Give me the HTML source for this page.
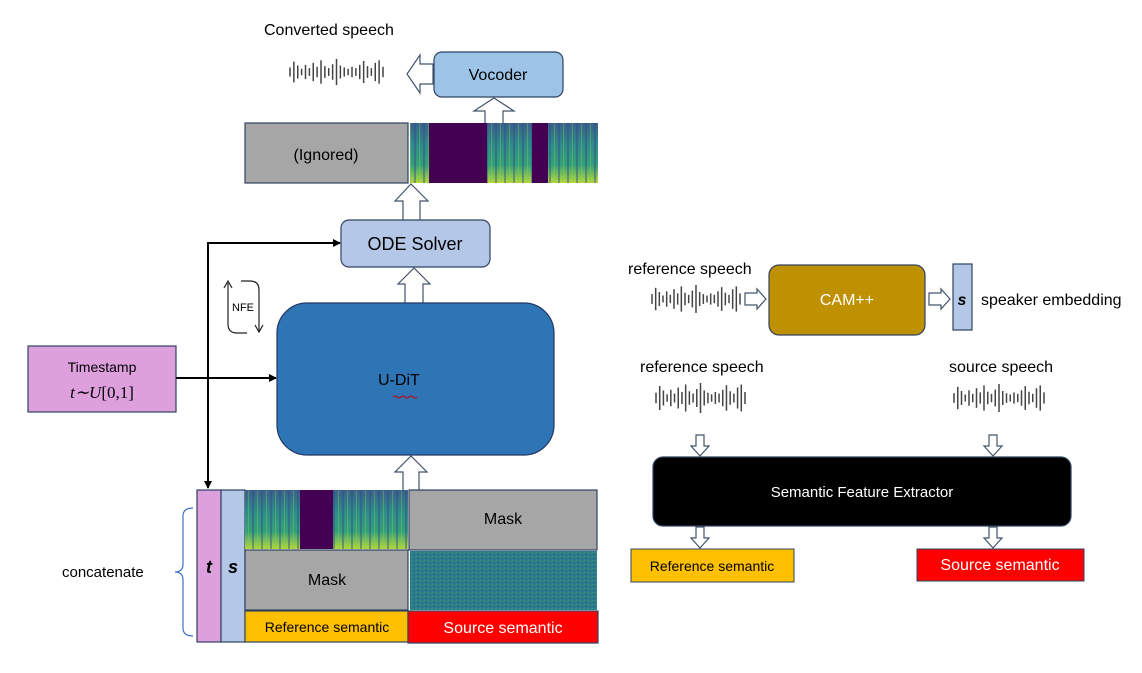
<!DOCTYPE html>
<html><head><meta charset="utf-8">
<style>
html,body{margin:0;padding:0;background:#fff;}
svg{display:block;font-family:"Liberation Sans",sans-serif;}
</style></head>
<body>
<svg id="s" width="1142" height="673" viewBox="0 0 1142 673" xmlns="http://www.w3.org/2000/svg">
<defs>
<linearGradient id="spg" x1="0" y1="0" x2="0" y2="1">
<stop offset="0" stop-color="#3b5f8a"/><stop offset="0.35" stop-color="#2f8a8a"/><stop offset="0.7" stop-color="#35a07a"/><stop offset="1" stop-color="#b5d83a"/>
</linearGradient>
<pattern id="vs" width="9" height="600" patternUnits="userSpaceOnUse">
<rect x="0" width="2" height="600" fill="#2e4d86" opacity="0.45"/>
<rect x="5" width="1" height="600" fill="#7fd05a" opacity="0.4"/>
</pattern>
<pattern id="noise" width="4" height="4" patternUnits="userSpaceOnUse">
<rect width="4" height="4" fill="#2b7b8a"/><rect x="0" y="0" width="1" height="1" fill="#3a9a7e"/><rect x="2" y="2" width="1" height="1" fill="#225e86"/><rect x="3" y="1" width="1" height="1" fill="#38977f"/>
</pattern>
<marker id="ah" markerWidth="8" markerHeight="8" refX="7" refY="4" orient="auto" markerUnits="userSpaceOnUse"><path d="M0,0 L8,4 L0,8 z" fill="#000"/></marker>
</defs>

<text x="264" y="35" font-size="16" fill="#000">Converted speech</text>
<g id="w1"></g>
<path d="M433,64 L420,64 L420,55 L407,74 L420,93 L420,84 L433,84 z" fill="#fff" stroke="#44546a" stroke-width="1.2"/>
<rect x="434" y="52" width="129" height="45" rx="8" fill="#9dc3e6" stroke="#2f4462" stroke-width="1.2"/>
<text x="498" y="80" font-size="16" text-anchor="middle">Vocoder</text>
<path d="M485,123 L485,111 L474,111 L494,98 L514,111 L503,111 L503,123" fill="#fff" stroke="#44546a" stroke-width="1.2"/>

<rect x="245" y="123" width="163" height="60" fill="#a6a6a6" stroke="#2f4462" stroke-width="1.2"/>
<text x="326" y="160" font-size="16" text-anchor="middle">(Ignored)</text>
<rect x="410" y="123" width="188" height="60" fill="url(#spg)"/>
<rect x="410" y="123" width="188" height="60" fill="url(#vs)"/>
<rect x="429" y="123" width="58" height="60" fill="#440154"/>
<rect x="532" y="123" width="16" height="60" fill="#440154"/>

<path d="M403,220 L403,201 L395,201 L411,184 L428,201 L420,201 L420,220" fill="#fff" stroke="#44546a" stroke-width="1.2"/>
<rect x="341" y="220" width="149" height="47" rx="8" fill="#b4c7e7" stroke="#2f4462" stroke-width="1.2"/>
<text x="415" y="250" font-size="18" text-anchor="middle">ODE Solver</text>
<path d="M405,303 L405,284 L398,284 L414,268 L430,284 L423,284 L423,303" fill="#fff" stroke="#44546a" stroke-width="1.2"/>

<rect x="277" y="303" width="277" height="152" rx="30" fill="#2e75b6" stroke="#203864" stroke-width="1.2"/>
<text x="378" y="385" font-size="16" fill="#000">U-DiT</text>
<path d="M393,397 q2,-2 4,0 q2,2 4,0 q2,-2 4,0 q2,2 4,0 q2,-2 4,0 q2,2 4,0" stroke="#c00" fill="none" stroke-width="1"/>
<path d="M403,490 L403,472 L395,472 L411,456 L427,472 L419,472 L419,490" fill="#fff" stroke="#44546a" stroke-width="1.2"/>

<rect x="28" y="346" width="148" height="66" fill="#dda0dd" stroke="#2f4462" stroke-width="1.2"/>
<text x="102" y="372" font-size="14" text-anchor="middle">Timestamp</text>
<text x="102" y="398" font-size="17" text-anchor="middle" font-family="Liberation Serif,serif" font-style="italic">t∼U<tspan font-style="normal">[0,1]</tspan></text>
<line x1="176" y1="378" x2="276" y2="378" stroke="#000" stroke-width="2" marker-end="url(#ah)"/>
<polyline points="208,488 208,243 340,243" fill="none" stroke="#000" stroke-width="2" marker-end="url(#ah)"/>
<line x1="208" y1="470" x2="208" y2="488" stroke="#000" stroke-width="2" marker-end="url(#ah)"/>

<g fill="none" stroke="#222" stroke-width="1.2">
<path d="M228,283 L228,324 q0,9 9,9 L247,333"/>
<path d="M224,288 L228,281 L232,288"/>
<path d="M241,281 L250,281 q9,0 9,9 L259,332"/>
<path d="M255,325 L259,332 L263,325"/>
</g>
<text x="243" y="311" font-size="11" text-anchor="middle">NFE</text>

<rect x="197" y="490" width="24" height="152" fill="#dda0dd" stroke="#2f4462" stroke-width="1.2"/>
<rect x="221" y="490" width="24" height="152" fill="#b4c7e7" stroke="#2f4462" stroke-width="1.2"/>
<text x="209" y="573" font-size="18" font-weight="bold" font-style="italic" text-anchor="middle">t</text>
<text x="233" y="573" font-size="18" font-weight="bold" font-style="italic" text-anchor="middle">s</text>
<rect x="245" y="490" width="163" height="59" fill="url(#spg)"/>
<rect x="245" y="490" width="163" height="59" fill="url(#vs)"/>
<rect x="300" y="490" width="33" height="59" fill="#440154"/>
<rect x="409" y="490" width="188" height="60" fill="#a6a6a6" stroke="#2f4462" stroke-width="1.2"/>
<text x="503" y="524" font-size="16" text-anchor="middle">Mask</text>
<rect x="245" y="550" width="163" height="60" fill="#a6a6a6" stroke="#2f4462" stroke-width="1.2"/>
<text x="327" y="585" font-size="16" text-anchor="middle">Mask</text>
<rect x="410" y="551" width="187" height="59" fill="url(#noise)"/>
<rect x="245" y="611" width="163" height="31" fill="#ffc000" stroke="#2f4462" stroke-width="1.2"/>
<text x="327" y="632" font-size="14" text-anchor="middle">Reference semantic</text>
<rect x="408" y="611" width="190" height="32" fill="#ff0000" stroke="#2f4462" stroke-width="1.2"/>
<text x="503" y="633" font-size="16" fill="#fff" text-anchor="middle">Source semantic</text>

<path d="M193,508 q-10,0 -10,8 L183,564 q0,8 -8,8 q8,0 8,8 L183,628 q0,8 10,8" fill="none" stroke="#4472c4" stroke-width="1.2"/>
<text x="62" y="577" font-size="15">concatenate</text>

<text x="628" y="274" font-size="16">reference speech</text>
<g id="w2"></g>
<path d="M745,293 L757,293 L757,289 L766,299 L757,309 L757,305 L745,305 z" fill="#fff" stroke="#44546a" stroke-width="1.2"/>
<rect x="769" y="265" width="156" height="70" rx="10" fill="#bf9000" stroke="#2f4462" stroke-width="1.2"/>
<text x="847" y="305" font-size="16" fill="#fff" text-anchor="middle">CAM++</text>
<path d="M929,293 L941,293 L941,289 L950,299 L941,309 L941,305 L929,305 z" fill="#fff" stroke="#44546a" stroke-width="1.2"/>
<rect x="953" y="264" width="19" height="66" fill="#b4c7e7" stroke="#2f4462" stroke-width="1.2"/>
<text x="962" y="305" font-size="16" font-weight="bold" font-style="italic" text-anchor="middle">s</text>
<text x="981" y="305" font-size="16">speaker embedding</text>

<text x="640" y="372" font-size="16">reference speech</text>
<text x="949" y="372" font-size="16">source speech</text>
<g id="w3"></g><g id="w4"></g>

<path d="M696,435 L696,446 L691,446 L700,456 L709,446 L704,446 L704,435 z" fill="#fff" stroke="#44546a" stroke-width="1.2"/>
<path d="M989,435 L989,446 L984,446 L993,456 L1002,446 L997,446 L997,435 z" fill="#fff" stroke="#44546a" stroke-width="1.2"/>
<rect x="653" y="457" width="418" height="69" rx="10" fill="#000" stroke="#2f4462" stroke-width="1.2"/>
<text x="862" y="497" font-size="15" fill="#fff" text-anchor="middle">Semantic Feature Extractor</text>
<path d="M696,527 L696,538 L691,538 L700,548 L709,538 L704,538 L704,527 z" fill="#fff" stroke="#44546a" stroke-width="1.2"/>
<path d="M989,527 L989,538 L984,538 L993,548 L1002,538 L997,538 L997,527 z" fill="#fff" stroke="#44546a" stroke-width="1.2"/>
<rect x="631" y="549" width="163" height="33" fill="#ffc000" stroke="#2f4462" stroke-width="1"/>
<text x="712" y="571" font-size="14" text-anchor="middle">Reference semantic</text>
<rect x="917" y="549" width="167" height="32" fill="#ff0000" stroke="#2f4462" stroke-width="1"/>
<text x="1000" y="570" font-size="16" fill="#fff" text-anchor="middle">Source semantic</text>
</svg>
<script>
var amps=[0.35,0.8,0.5,0.25,0.55,0.3,0.7,0.4,0.9,0.45,0.3,0.6,1,0.5,0.35,0.25,0.4,0.3,0.55,0.85,0.45,0.3,0.7,0.9,0.4];
function wave(id,x0,x1,cy,h){
 var g=document.getElementById(id),n=amps.length,s='';
 for(var i=0;i<n;i++){var x=x0+(x1-x0)*i/(n-1),a=amps[i]*h;
 s+='<line x1="'+x+'" y1="'+(cy-a)+'" x2="'+x+'" y2="'+(cy+a)+'" stroke="#444" stroke-width="1.5"/>';}
 g.innerHTML=s;
}
wave('w1',290,383,72,13);
wave('w2',652,740,299,14);
wave('w3',656,745,398,15);
wave('w4',954,1044,398,14);
</script>
</body></html>
